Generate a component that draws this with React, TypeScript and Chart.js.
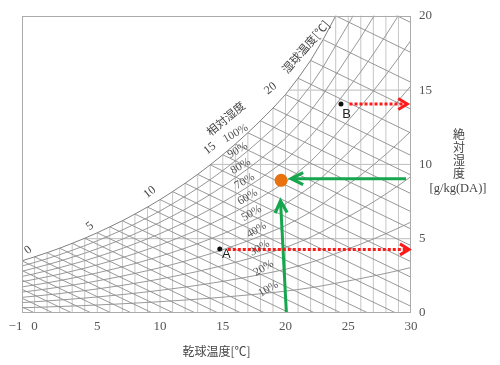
import React, { useEffect, useRef } from 'react';
import { Chart, registerables } from 'chart.js';

Chart.register(...registerables);

// Saturation (100% RH) absolute humidity [g/kg(DA)], per °C
const satTemps = [-8, -7, -6, -5, -4, -3, -2, -1, 0, 1, 2, 3, 4, 5, 6, 7, 8, 9, 10, 11, 12, 13, 14, 15, 16, 17, 18, 19, 20, 21, 22, 23, 24, 25, 26, 27, 28, 29, 30];
const satHumidity = [2.06, 2.23, 2.41, 2.6, 2.8, 3.02, 3.26, 3.51, 3.78, 4.06, 4.36, 4.69, 5.03, 5.4, 5.8, 6.21, 6.66, 7.13, 7.63, 8.17, 8.73, 9.33, 9.97, 10.65, 11.37, 12.13, 12.94, 13.79, 14.7, 15.8, 17.0, 18.4, 20.0, 21.6, 23.2, 24.9, 26.7, 28.6, 30.6];

const rhLevels = [10, 20, 30, 40, 50, 60, 70, 80, 90];

const humidityGridLevels = [5, 10, 15];
const humidityGridStartTemps = [3.9, 14.0, 20.3];

const xTickValues = [-1, 0, 5, 10, 15, 20, 25, 30];
const yTickValues = [0, 5, 10, 15, 20];

const wetBulbLabels = ['0', '5', '10', '15', '20'];
const wetBulbLabelT = [-0.5, 4.42, 9.19, 13.96, 18.8];
const wetBulbLabelW = [4.23, 5.84, 8.12, 11.07, 15.1];

const rhLabels = ['100%', '90%', '80%', '70%', '60%', '50%', '40%', '30%', '20%', '10%'];
const rhLabelT = [16.02, 16.18, 16.42, 16.74, 16.98, 17.3, 17.69, 17.93, 18.25, 18.64];
const rhLabelW = [12.08, 10.94, 9.87, 8.86, 7.79, 6.71, 5.57, 4.36, 3.02, 1.61];

// Marked states
const pointA = { x: 14.76, y: 4.3 };
const pointB = { x: 24.42, y: 14.07 };
const arrowA = [{ x: 15.4, y: 4.28 }, { x: 29.84, y: 4.28 }];
const arrowB = [{ x: 25.1, y: 14.07 }, { x: 29.7, y: 14.07 }];
const targetPoint = { x: 19.65, y: 8.93 };
const greenArrowH = [{ x: 29.6, y: 9.04 }, { x: 20.45, y: 9.04 }];
const greenArrowV = [{ x: 20.07, y: 0 }, { x: 19.6, y: 7.55 }];

const SERIF = "'Liberation Serif', 'DejaVu Serif', serif";
const CJK = "'Noto Sans CJK JP', 'Noto Sans', sans-serif";

function lineDs(data: any[], color: string, width: number, order: number, dash?: number[]) {
  return {
    type: 'line',
    data,
    borderColor: color,
    borderWidth: width,
    borderDash: dash || [],
    pointRadius: 0,
    pointHoverRadius: 0,
    fill: false,
    tension: 0,
    order,
  };
}

function buildDatasets() {
  const ds: any[] = [];
  // dry-bulb lines
  satTemps.forEach((t, i) => {
    if (t < -1) return;
    ds.push(lineDs([{ x: t, y: 0 }, { x: t, y: satHumidity[i] }], '#c6c6c6', 1, 20));
  });
  // humidity horizontal lines
  humidityGridLevels.forEach((w, i) => {
    ds.push(lineDs([{ x: humidityGridStartTemps[i], y: w }, { x: 30, y: w }], '#bdbdbd', 1, 20));
  });
  // wet-bulb lines
  satTemps.forEach((t, i) => {
    const ws = satHumidity[i];
    const endT = t + (ws * (2501 - 2.326 * t)) / 1006;
    ds.push(lineDs([{ x: t, y: ws }, { x: endT, y: 0 }], '#8c8c8c', 0.9, 15));
  });
  // RH curves
  rhLevels.forEach((rh) => {
    ds.push(lineDs(satTemps.map((t, i) => ({ x: t, y: (satHumidity[i] * rh) / 100 })), '#8c8c8c', 0.9, 15));
  });
  // saturation curve
  ds.push(lineDs(satTemps.map((t, i) => ({ x: t, y: satHumidity[i] })), '#808080', 1, 14));
  // arrows
  ds.push(lineDs(arrowA, '#ff1a1a', 3, 2, [3, 2]));
  ds.push(lineDs(arrowB, '#ff1a1a', 3, 2, [3, 2]));
  ds.push(lineDs(greenArrowH, '#16a64e', 3, 2));
  ds.push(lineDs(greenArrowV, '#16a64e', 3, 2));
  // points
  ds.push({ type: 'scatter', data: [pointA, pointB], pointRadius: 2.5, pointBackgroundColor: '#111', pointBorderWidth: 0, order: 1 });
  ds.push({ type: 'scatter', data: [targetPoint], pointRadius: 6.5, pointBackgroundColor: '#e8730e', pointBorderWidth: 0, order: 0 });
  return ds;
}

function drawHead(ctx: CanvasRenderingContext2D, fx: number, fy: number, tx: number, ty: number, len: number, half: number, color: string, width: number) {
  const a = Math.atan2(ty - fy, tx - fx);
  const dx = Math.cos(a), dy = Math.sin(a);
  const bx = tx - dx * len, by = ty - dy * len;
  ctx.save();
  ctx.strokeStyle = color;
  ctx.lineWidth = width;
  ctx.lineCap = 'butt';
  ctx.lineJoin = 'miter';
  ctx.beginPath();
  ctx.moveTo(bx - dy * half, by + dx * half);
  ctx.lineTo(tx, ty);
  ctx.lineTo(bx + dy * half, by - dx * half);
  ctx.stroke();
  ctx.restore();
}

function rotText(ctx: CanvasRenderingContext2D, text: string, x: number, y: number, deg: number, font: string, color: string) {
  ctx.save();
  ctx.translate(x, y);
  ctx.rotate((deg * Math.PI) / 180);
  ctx.font = font;
  ctx.fillStyle = color;
  ctx.textAlign = 'center';
  ctx.textBaseline = 'middle';
  ctx.fillText(text, 0, 0);
  ctx.restore();
}

const overlayPlugin = {
  id: 'psyOverlay',
  afterDatasetsDraw(chart: any) {
    const { ctx, chartArea: ca, scales } = chart;
    const xs = scales.x, ys = scales.y;
    const px = (v: number) => xs.getPixelForValue(v);
    const py = (v: number) => ys.getPixelForValue(v);
    ctx.save();
    // frame
    ctx.strokeStyle = '#ababab';
    ctx.lineWidth = 1;
    ctx.strokeRect(Math.round(ca.left) + 0.5, Math.round(ca.top) + 0.5, Math.round(ca.right - ca.left) - 1, Math.round(ca.bottom - ca.top) - 1);

    // arrow heads
    drawHead(ctx, px(arrowA[0].x), py(arrowA[0].y), px(arrowA[1].x), py(arrowA[1].y), 9, 5.5, '#ff1a1a', 3);
    drawHead(ctx, px(arrowB[0].x), py(arrowB[0].y), px(arrowB[1].x), py(arrowB[1].y), 9, 5.5, '#ff1a1a', 3);
    drawHead(ctx, px(greenArrowH[0].x), py(greenArrowH[0].y), px(greenArrowH[1].x), py(greenArrowH[1].y), 12, 6, '#16a64e', 3.2);
    drawHead(ctx, px(greenArrowV[0].x), py(greenArrowV[0].y), px(greenArrowV[1].x), py(greenArrowV[1].y), 12, 6, '#16a64e', 3.2);

    // point labels
    ctx.font = "13px 'Liberation Sans', 'DejaVu Sans', sans-serif";
    ctx.fillStyle = '#222';
    ctx.textAlign = 'center';
    ctx.textBaseline = 'middle';
    ctx.fillText('A', px(pointA.x) + 6.5, py(pointA.y) + 5);
    ctx.fillText('B', px(pointB.x) + 5.5, py(pointB.y) + 11);

    // wet-bulb labels on saturation curve
    wetBulbLabels.forEach((s, i) => {
      rotText(ctx, s, px(wetBulbLabelT[i]), py(wetBulbLabelW[i]), -38, `12px ${SERIF}`, '#444');
    });
    // RH labels
    rhLabels.forEach((s, i) => {
      rotText(ctx, s, px(rhLabelT[i]), py(rhLabelW[i]), -30, `11.5px ${SERIF}`, '#555');
    });
    rotText(ctx, '相対湿度', px(15.23), py(13.09), -40, `11.5px ${CJK}`, '#444');
    rotText(ctx, '湿球温度[℃]', px(21.6), py(17.92), -49, `11.5px ${CJK}`, '#444');

    // right axis title (vertical stacked)
    ctx.font = `12px ${CJK}`;
    ctx.fillStyle = '#444';
    ctx.textAlign = 'center';
    ctx.textBaseline = 'middle';
    const chars = ['絶', '対', '湿', '度'];
    chars.forEach((c, i) => ctx.fillText(c, 459, 134 + i * 13));
    ctx.font = `12.5px ${SERIF}`;
    ctx.fillText('[g/kg(DA)]', 458, 189);
    ctx.restore();
  },
};

export default function App() {
  const ref = useRef<HTMLCanvasElement | null>(null);
  useEffect(() => {
    if (!ref.current) return;
    const chart = new Chart(ref.current, {
      type: 'line',
      data: { datasets: buildDatasets() },
      options: {
        responsive: false,
        animation: false,
        devicePixelRatio: 1,
        layout: { padding: { left: 22, top: 15, right: 0, bottom: 0 } },
        plugins: { legend: { display: false }, tooltip: { enabled: false } },
        events: [],
        scales: {
          x: {
            type: 'linear',
            min: -1,
            max: 30,
            grid: { display: false, drawTicks: false },
            border: { display: false },
            afterBuildTicks: (scale: any) => {
              scale.ticks = xTickValues.map((v) => ({ value: v }));
            },
            afterFit: (scale: any) => {
              scale.height = 52;
            },
            ticks: {
              autoSkip: false,
              maxRotation: 0,
              padding: 6,
              color: '#555',
              font: { family: SERIF, size: 13 },
              callback: (v: any) => (v === -1 ? '−1\u2007\u2007' : String(v)),
            },
            title: {
              display: true,
              text: '乾球温度[℃]',
              color: '#444',
              font: { family: CJK, size: 12 },
              padding: { top: 0, bottom: 6 },
            },
          },
          y: {
            type: 'linear',
            position: 'right',
            min: 0,
            max: 20,
            grid: { display: false, drawTicks: false },
            border: { display: false },
            afterBuildTicks: (scale: any) => {
              scale.ticks = yTickValues.map((v) => ({ value: v }));
            },
            afterFit: (scale: any) => {
              scale.width = 89;
            },
            ticks: {
              padding: 8,
              color: '#555',
              font: { family: SERIF, size: 13 },
            },
          },
        },
      } as any,
      plugins: [overlayPlugin as any],
    });
    return () => chart.destroy();
  }, []);
  return (
    <div style={{ position: 'absolute', left: 0, top: 0, width: 500, height: 365, background: '#fff' }}>
      <canvas ref={ref} width={500} height={365} style={{ display: 'block' }} />
    </div>
  );
}
